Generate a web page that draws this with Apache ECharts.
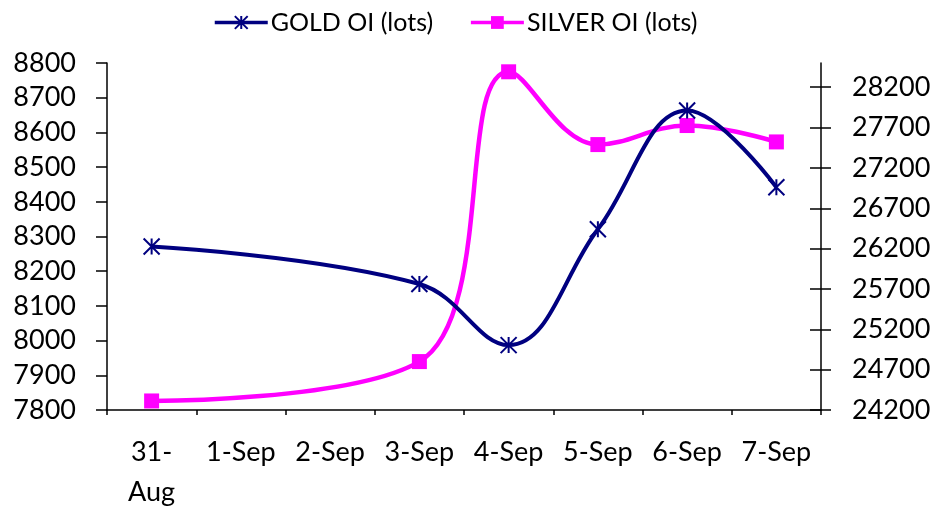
<!DOCTYPE html>
<html>
<head>
<meta charset="utf-8">
<script src="https://cdn.jsdelivr.net/npm/echarts@6/dist/echarts.min.js"></script>
<style>
  html, body { margin: 0; padding: 0; background: #fff; }
  #chart { width: 934px; height: 506px; }
</style>
</head>
<body>
<div id="chart"></div>
<script>
// Open interest, 31 Aug – 7 Sep (no trading on 1–2 Sep)
const dates = ['31-Aug', '1-Sep', '2-Sep', '3-Sep', '4-Sep', '5-Sep', '6-Sep', '7-Sep'];
const goldOI = [8271, null, null, 8163, 7987, 8321, 8663, 8442];
const silverOI = [24312, null, null, 24800, 28391, 27489, 27725, 27522];
const silverTicks = [24200, 24700, 25200, 25700, 26200, 26700, 27200, 27700, 28200];

const FONT = 'Lato';
const TXT = '#000';
const plain = v => String(v);

const chart = echarts.init(document.getElementById('chart'), null, { renderer: 'canvas' });

const starPath = 'path://M0,0L16,16M16,0L0,16M8,0L8,16';

chart.setOption({
  animation: false,
  backgroundColor: '#fff',
  textStyle: { fontFamily: FONT, color: TXT },
  legend: {
    top: 5,
    left: 208,
    itemWidth: 53,
    itemHeight: 16,
    itemGap: 36,
    lineStyle: { width: 3.5 },
    textStyle: { fontFamily: FONT, fontSize: 25, color: TXT, padding: [0, 0, 0, -2] },
    data: ['GOLD OI (lots)', 'SILVER OI (lots)']
  },
  grid: { left: 107, right: 113, top: 63, bottom: 96, outerBoundsMode: 'none', containLabel: false },
  xAxis: {
    type: 'category',
    data: dates,
    boundaryGap: true,
    axisLine: { lineStyle: { color: '#000', width: 1.5 } },
    axisTick: { show: true, length: 5, lineStyle: { color: '#000', width: 1.5 } },
    axisLabel: {
      interval: 0,
      margin: 22,
      fontFamily: FONT,
      fontSize: 27,
      color: TXT,
      lineHeight: 40,
      formatter: v => v.length > 5 ? v.replace('-', '-\n') : v
    },
    splitLine: { show: false }
  },
  yAxis: [
    {
      type: 'value',
      position: 'left',
      min: 7800,
      max: 8800,
      interval: 100,
      axisLine: { show: true, lineStyle: { color: '#000', width: 1.5 } },
      axisTick: { show: true, length: 11, lineStyle: { color: '#000', width: 1.5 } },
      axisLabel: { margin: 31, fontFamily: FONT, fontSize: 27, color: TXT, formatter: plain },
      splitLine: { show: false }
    },
    {
      type: 'value',
      position: 'right',
      min: 24200,
      max: 28500,
      axisLine: { show: true, lineStyle: { color: '#000', width: 1.5 } },
      axisTick: { show: true, length: 10, customValues: silverTicks, lineStyle: { color: '#000', width: 1.5 } },
      axisLabel: { margin: 31, fontFamily: FONT, fontSize: 27, color: TXT, customValues: silverTicks, formatter: plain },
      splitLine: { show: false }
    },
    {
      // inner half of the crossing ticks on the right axis
      type: 'value',
      position: 'right',
      min: 24200,
      max: 28500,
      axisLine: { show: false },
      axisTick: { show: true, inside: true, length: 11, customValues: silverTicks, lineStyle: { color: '#000', width: 1.5 } },
      axisLabel: { show: false },
      splitLine: { show: false }
    }
  ],
  series: [
    {
      name: 'GOLD OI (lots)',
      type: 'line',
      yAxisIndex: 0,
      data: goldOI,
      connectNulls: true,
      smooth: 0.4,
      symbol: starPath,
      symbolSize: 16,
      showAllSymbol: true,
      lineStyle: { color: '#000080', width: 4 },
      itemStyle: { color: '#000080', borderColor: '#000080', borderWidth: 2 },
      z: 3
    },
    {
      name: 'SILVER OI (lots)',
      type: 'line',
      yAxisIndex: 1,
      data: silverOI,
      connectNulls: true,
      smooth: 0.4,
      symbol: 'rect',
      symbolSize: 15,
      showAllSymbol: true,
      lineStyle: { color: '#FF00FF', width: 4.5 },
      itemStyle: { color: '#FF00FF', borderWidth: 0 },
      z: 2
    }
  ]
});
</script>
</body>
</html>
